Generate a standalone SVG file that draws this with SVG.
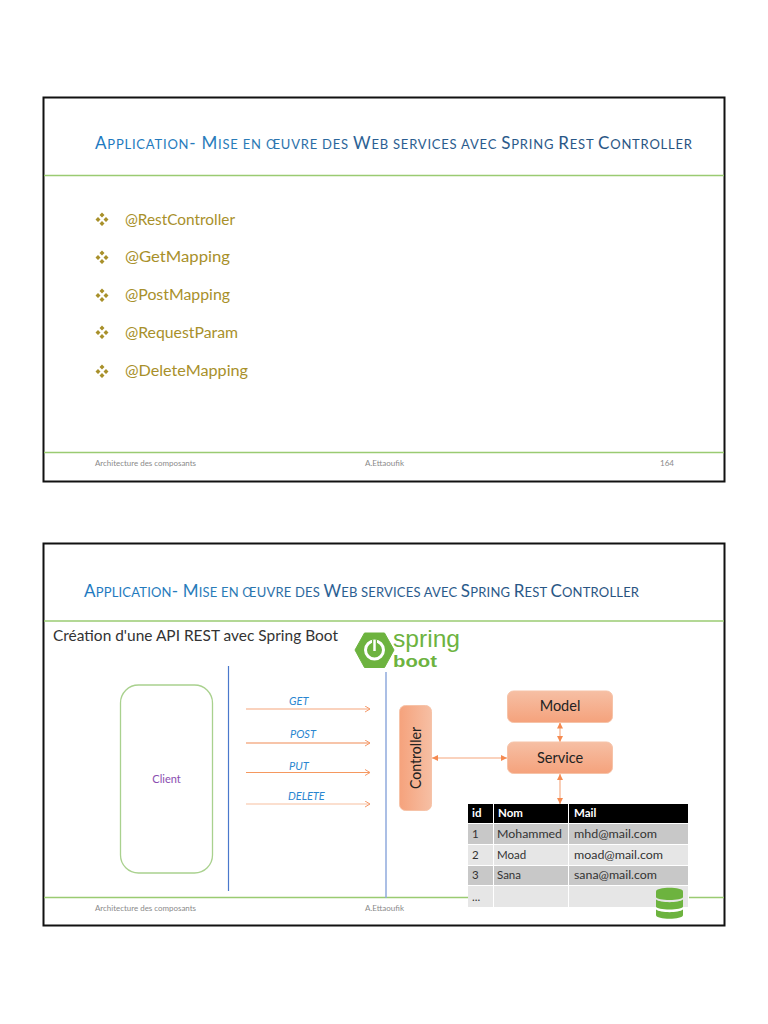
<svg xmlns="http://www.w3.org/2000/svg" width="768" height="1024" viewBox="0 0 768 1024">
<defs>
<linearGradient id="tg" x1="0" x2="1" y1="0" y2="0"><stop offset="0" stop-color="#1f78c0"/><stop offset="0.25" stop-color="#2a7cb8"/><stop offset="0.45" stop-color="#2a5f93"/><stop offset="1" stop-color="#27527f"/></linearGradient>
<linearGradient id="og" x1="0" x2="0" y1="0" y2="1"><stop offset="0" stop-color="#f6bfa4"/><stop offset="1" stop-color="#f5a27c"/></linearGradient>
<linearGradient id="og2" x1="1" x2="0" y1="0" y2="0"><stop offset="0" stop-color="#f6bfa4"/><stop offset="1" stop-color="#f5a27c"/></linearGradient>
<marker id="a" markerWidth="7" markerHeight="7" refX="6" refY="3.5" orient="auto" markerUnits="userSpaceOnUse"><path d="M1 0.5L6 3.5L1 6.5" fill="none" stroke="#f59a6a" stroke-width="1"/></marker>
<marker id="s" markerWidth="7" markerHeight="6" refX="6" refY="3" orient="auto-start-reverse" markerUnits="userSpaceOnUse"><path d="M0 0L6 3L0 6Z" fill="#f58a50"/></marker>
<path id="bul" d="M0 -6.500l2.500 2.500l-2.500 2.500l-2.500 -2.500zM-4 -2l2.500 2.500l-2.500 2.500l-2.500 -2.500zM4 -2l2.500 2.500l-2.500 2.500l-2.500 -2.500zM0 2l2.500 2.500l-2.500 2.500l-2.500 -2.500z" fill="#a8902a"/>
</defs>
<style>
text{font-family:"Lato","Liberation Sans",sans-serif}
.frame{fill:#fff;stroke:#111;stroke-width:2}
.rule{stroke:#9acb72;stroke-width:1.300;fill:none}
.big{font-size:17px}.small{font-size:13px}
.item{font-size:15.500px;fill:#a8902a}
.foot{font-size:8px;fill:#8a8a8a}
.http{font-size:11px;font-style:italic;fill:#2a86d0}
.box{font-size:14.500px;fill:#222}
.cell{font-size:11.500px;fill:#333}
.head{font-size:11.500px;fill:#fff;font-weight:700}
.row1{fill:#c8c8c8}.row2{fill:#e6e6e6}
</style>

<g id="slide-1">
<rect class="frame" x="43.500" y="97.500" width="681" height="384"/>
<line class="rule" x1="44" y1="175.500" x2="724" y2="175.500"/>
<line class="rule" x1="44" y1="452.500" x2="724" y2="452.500"/>
<text x="95" y="149" fill="url(#tg)" textLength="597" lengthAdjust="spacing" class="small"><tspan class="big">A</tspan>PPLICATION<tspan class="big">- M</tspan>ISE EN ŒUVRE DES <tspan class="big">W</tspan>EB SERVICES AVEC <tspan class="big">S</tspan>PRING <tspan class="big">R</tspan>EST <tspan class="big">C</tspan>ONTROLLER</text>
<use href="#bul" x="102" y="219"/>
<text class="item" x="125" y="225" textLength="110" lengthAdjust="spacingAndGlyphs">@RestController</text>
<use href="#bul" x="102" y="257"/>
<text class="item" x="125" y="262" textLength="105" lengthAdjust="spacingAndGlyphs">@GetMapping</text>
<use href="#bul" x="102" y="295"/>
<text class="item" x="125" y="300" textLength="105" lengthAdjust="spacingAndGlyphs">@PostMapping</text>
<use href="#bul" x="102" y="332"/>
<text class="item" x="125" y="338" textLength="113" lengthAdjust="spacingAndGlyphs">@RequestParam</text>
<use href="#bul" x="102" y="371"/>
<text class="item" x="125" y="376" textLength="123" lengthAdjust="spacingAndGlyphs">@DeleteMapping</text>
<text class="foot" x="95" y="466" textLength="101" lengthAdjust="spacingAndGlyphs">Architecture des composants</text>
<text class="foot" x="365" y="466" textLength="39" lengthAdjust="spacingAndGlyphs">A.Ettaoufik</text>
<text class="foot" x="660" y="466" textLength="14" lengthAdjust="spacingAndGlyphs">164</text>
</g>

<g id="slide-2">
<rect class="frame" x="43.500" y="543.500" width="681" height="382"/>
<line class="rule" x1="44" y1="621" x2="724" y2="621"/>
<line class="rule" x1="44" y1="897.500" x2="468" y2="897.500"/>
<line class="rule" x1="689" y1="897.500" x2="724" y2="897.500"/>
<text x="84" y="597" fill="url(#tg)" textLength="555" lengthAdjust="spacing" class="small"><tspan class="big">A</tspan>PPLICATION<tspan class="big">- M</tspan>ISE EN ŒUVRE DES <tspan class="big">W</tspan>EB SERVICES AVEC <tspan class="big">S</tspan>PRING <tspan class="big">R</tspan>EST <tspan class="big">C</tspan>ONTROLLER</text>
<text x="53" y="641" font-size="15" fill="#333" textLength="285" lengthAdjust="spacingAndGlyphs">Création d'une API REST avec Spring Boot</text>
<text class="foot" x="95" y="911" textLength="101" lengthAdjust="spacingAndGlyphs">Architecture des composants</text>
<text class="foot" x="365" y="911" textLength="39" lengthAdjust="spacingAndGlyphs">A.Ettaoufik</text>
<line x1="228.500" y1="666" x2="228.500" y2="891" stroke="#4a78cc" stroke-width="1.200"/>
<line x1="386" y1="672" x2="386" y2="898" stroke="#8faadc" stroke-width="1.500"/>
</g>

<g id="spring-logo">
<path d="M355 650L364.500 633H384.500L394 650L384.500 667.500H364.500Z" fill="#6db33f" stroke="#6db33f" stroke-width="1" stroke-linejoin="round"/>
<circle cx="374.500" cy="650" r="9" fill="none" stroke="#fff" stroke-width="3"/>
<line x1="374.500" y1="640" x2="374.500" y2="651" stroke="#6db33f" stroke-width="5"/>
<line x1="374.500" y1="640" x2="374.500" y2="651" stroke="#fff" stroke-width="2.500"/>
<text x="393" y="646.500" font-size="24" fill="#6db33f" style="font-family:'Liberation Sans',sans-serif" textLength="67" lengthAdjust="spacingAndGlyphs">spring</text>
<text x="393" y="667" font-size="17" font-weight="700" fill="#6db33f" style="font-family:'Liberation Sans',sans-serif" textLength="44" lengthAdjust="spacingAndGlyphs">boot</text>
</g>

<g id="client">
<rect x="120.500" y="685" width="92" height="188" rx="18" fill="#fff" stroke="#a9d18e" stroke-width="1.300"/>
<text x="166.500" y="783" font-size="11" fill="#8a4db0" text-anchor="middle">Client</text>
</g>

<g id="connectors" fill="none" stroke-width="1.100">
<line x1="246" y1="709" x2="370" y2="709" stroke="#f5a67c" marker-end="url(#a)"/>
<line x1="246" y1="743" x2="370" y2="743" stroke="#f08a55" marker-end="url(#a)"/>
<line x1="246" y1="772.500" x2="370" y2="772.500" stroke="#f5985f" marker-end="url(#a)"/>
<line x1="246" y1="804" x2="370" y2="804" stroke="#f8c0a0" marker-end="url(#a)"/>
<line x1="432" y1="758" x2="507" y2="758" stroke="#f5a67c" marker-start="url(#s)" marker-end="url(#s)"/>
<line x1="560" y1="722.500" x2="560" y2="742" stroke="#f5a67c" marker-start="url(#s)" marker-end="url(#s)"/>
<line x1="560" y1="774" x2="560" y2="804" stroke="#f5a67c" marker-start="url(#s)" marker-end="url(#s)"/>
</g>

<g id="http-labels">
<text class="http" x="289" y="705">GET</text>
<text class="http" x="290" y="738">POST</text>
<text class="http" x="289" y="770">PUT</text>
<text class="http" x="288" y="800">DELETE</text>
</g>

<g id="controller">
<rect x="399.500" y="705.500" width="32" height="105" rx="6" fill="url(#og2)" stroke="#f6c3a8"/>
<text class="box" transform="translate(421 758) rotate(-90)" text-anchor="middle" textLength="62" lengthAdjust="spacingAndGlyphs">Controller</text>
</g>
<g id="model">
<rect x="507.500" y="691" width="105" height="31.500" rx="6" fill="url(#og)" stroke="#f6c3a8"/>
<text class="box" x="560" y="711" text-anchor="middle">Model</text>
</g>
<g id="service">
<rect x="507.500" y="742" width="105" height="31.500" rx="6" fill="url(#og)" stroke="#f6c3a8"/>
<text class="box" x="560" y="763" text-anchor="middle">Service</text>
</g>

<g id="table">
<rect x="468" y="804" width="220" height="19" fill="#000"/>
<rect class="row1" x="468" y="824" width="220" height="20"/>
<rect class="row2" x="468" y="845" width="220" height="20"/>
<rect class="row1" x="468" y="866" width="220" height="19"/>
<rect class="row2" x="468" y="886" width="220" height="21"/>
<line x1="493.500" y1="804" x2="493.500" y2="907" stroke="#fff"/>
<line x1="568.500" y1="804" x2="568.500" y2="907" stroke="#fff"/>
<text class="head" x="472" y="817">id</text><text class="head" x="498" y="817">Nom</text><text class="head" x="574" y="817">Mail</text>
<text class="cell" x="472" y="838">1</text><text class="cell" x="497" y="838" textLength="65" lengthAdjust="spacingAndGlyphs">Mohammed</text><text class="cell" x="574" y="838" textLength="83" lengthAdjust="spacingAndGlyphs">mhd@mail.com</text>
<text class="cell" x="472" y="859">2</text><text class="cell" x="497" y="859">Moad</text><text class="cell" x="574" y="859" textLength="89" lengthAdjust="spacingAndGlyphs">moad@mail.com</text>
<text class="cell" x="472" y="879">3</text><text class="cell" x="497" y="879">Sana</text><text class="cell" x="574" y="879" textLength="83" lengthAdjust="spacingAndGlyphs">sana@mail.com</text>
<text class="cell" x="472" y="901">...</text>
</g>

<g id="database" fill="#6db33f">
<path d="M656 891.500C656 886.500 683 886.500 683 891.500V897C683 901 656 901 656 897Z"/>
<path d="M656 899.500C660 903 679 903 683 899.500V906.500C683 910.500 656 910.500 656 906.500Z"/>
<path d="M656 909.500C660 913 679 913 683 909.500V915C683 920 656 920 656 915Z"/>
</g>
</svg>
